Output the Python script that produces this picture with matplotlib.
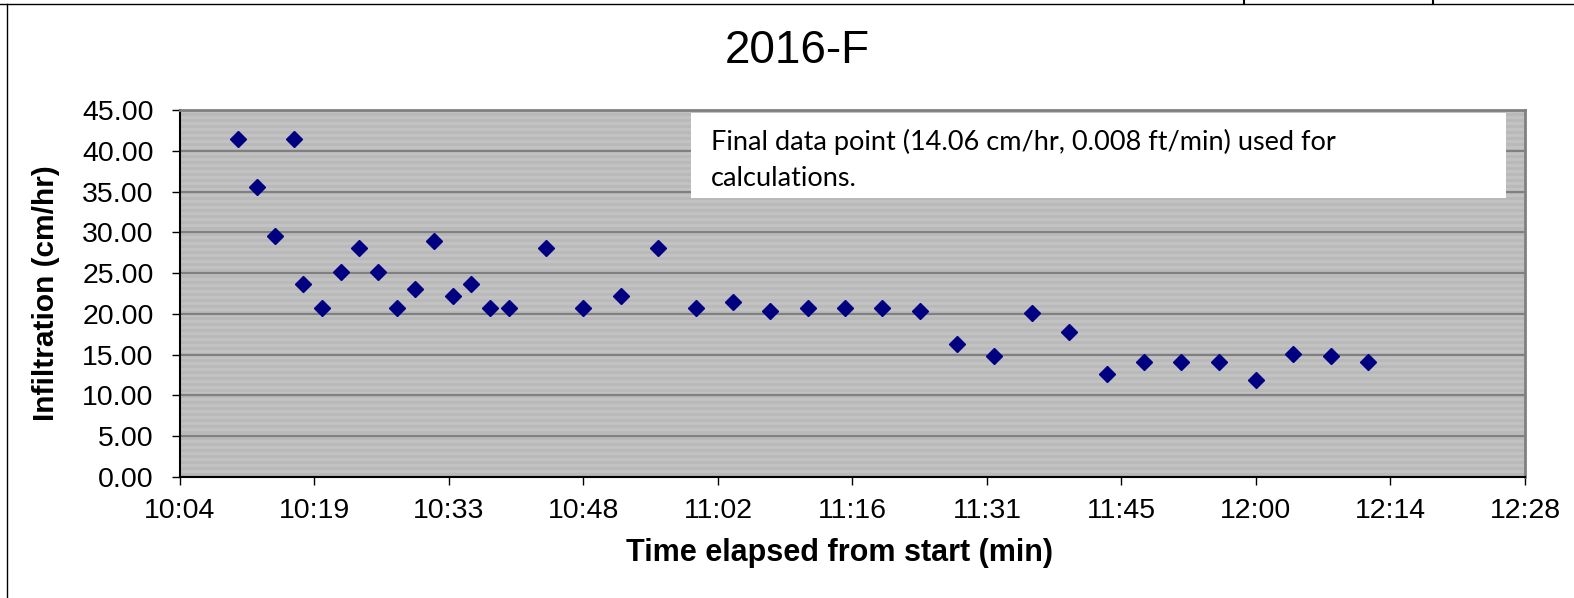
import numpy as np
import matplotlib
matplotlib.use('Agg')
import matplotlib.pyplot as plt
from matplotlib.patches import Rectangle
from matplotlib.lines import Line2D

# clock time of each reading and infiltration rate (cm/hr)
times = ['10:11', '10:13', '10:15', '10:17', '10:18', '10:20', '10:22', '10:24',
         '10:26', '10:28', '10:30', '10:32', '10:34', '10:36', '10:38', '10:40',
         '10:44', '10:48', '10:52', '10:56', '11:00', '11:04', '11:08', '11:12',
         '11:16', '11:20', '11:24', '11:28', '11:32', '11:36', '11:40', '11:44',
         '11:48', '11:52', '11:56', '12:00', '12:04', '12:08', '12:12']
infiltration = [41.43, 35.51, 29.59, 41.43, 23.67, 20.71, 25.15, 28.11,
                25.15, 20.71, 23.08, 28.99, 22.19, 23.67, 20.71, 20.71,
                28.11, 20.71, 22.19, 28.11, 20.71, 21.45, 20.34, 20.71,
                20.71, 20.71, 20.34, 16.27, 14.79, 20.08, 17.75, 12.57,
                14.06, 14.06, 14.06, 11.84, 15.05, 14.79, 14.06]

# excel axis in fractions of a day
x_ticks = [0.42, 0.43, 0.44, 0.45, 0.46, 0.47, 0.48, 0.49, 0.50, 0.51, 0.52]
x_tick_labels = ['10:04', '10:19', '10:33', '10:48', '11:02', '11:16',
                 '11:31', '11:45', '12:00', '12:14', '12:28']
y_ticks = [0, 5, 10, 15, 20, 25, 30, 35, 40, 45]

title = '2016-F'
note_lines = ['Final data point (14.06 cm/hr, 0.008 ft/min) used for',
              'calculations.']

W, H = 1574, 598


def to_day(t):
    h, m = t.split(':')
    return int(h) / 24.0 + int(m) / 1440.0


def fx(px):
    return px / W


def fy(py):
    return 1 - py / H


def main():
    plt.rcParams['font.family'] = ['Liberation Sans', 'DejaVu Sans']
    fig = plt.figure(figsize=(W / 100, H / 100), dpi=100)

    left, right, top, bottom = 180, 1525, 110, 477
    ax = fig.add_axes([fx(left), fy(bottom), fx(right - left), (bottom - top) / H])

    # striped grey plot area like the excel pattern fill
    n = bottom - top
    rows = np.array([0xC2 if (i % 6) < 3 else 0xB9 for i in range(n)], dtype=float)
    ax.imshow(rows.reshape(-1, 1), cmap='gray', vmin=0, vmax=255, aspect='auto',
              extent=[0, 1, 0, 1], transform=ax.transAxes, interpolation='nearest',
              zorder=0)

    xs = [to_day(t) for t in times]
    ax.plot(xs, infiltration, linestyle='none', marker='D', markersize=8,
            color='#000080', zorder=5)

    ax.set_xlim(x_ticks[0], x_ticks[-1])
    ax.set_ylim(y_ticks[0], y_ticks[-1])
    ax.set_xticks(x_ticks)
    ax.set_xticklabels(x_tick_labels)
    ax.set_yticks(y_ticks)
    ax.set_yticklabels([f"{v:.2f}" for v in y_ticks])
    ax.tick_params(axis='both', direction='out', length=6, width=1, colors='black',
                   labelsize=20.5)
    ax.tick_params(axis='x', pad=9)
    ax.tick_params(axis='y', pad=13)

    ax.set_axisbelow(True)
    ax.yaxis.grid(True, color='#808080', linewidth=1.6)
    ax.xaxis.grid(False)
    for s in ['left', 'bottom']:
        ax.spines[s].set_color('black')
        ax.spines[s].set_linewidth(1.5)
    for s in ['top', 'right']:
        ax.spines[s].set_color('#808080')
        ax.spines[s].set_linewidth(2)

    ax.set_ylabel('Infiltration (cm/hr)', fontsize=21.5, fontweight='bold')
    ax.yaxis.set_label_coords(fx(60 - left) / fx(right - left), 0.5)
    fig.text(fx(839), fy(553), 'Time elapsed from start (min)', fontsize=22,
             fontweight='bold', ha='center', va='center')
    fig.text(fx(797), fy(51), title, fontsize=33, ha='center', va='center')

    # white note box
    box = Rectangle((fx(691), fy(198)), fx(1506 - 691), (198 - 113) / H,
                    transform=fig.transFigure, facecolor='white', edgecolor='none',
                    zorder=3)
    ax.add_patch(box)
    fig.text(fx(711), fy(142), note_lines[0], fontsize=19.5, family=['Lato', 'DejaVu Sans'],
             ha='left', va='center', zorder=4)
    fig.text(fx(711), fy(179), note_lines[1], fontsize=19.5, family=['Lato', 'DejaVu Sans'],
             ha='left', va='center', zorder=4)

    # outer frame remnants
    fig.add_artist(Line2D([0, 1], [fy(4), fy(4)], transform=fig.transFigure,
                          color='black', linewidth=1))
    fig.add_artist(Line2D([fx(6.5), fx(6.5)], [fy(4), 0], transform=fig.transFigure,
                          color='black', linewidth=1))
    for px in [1244, 1433]:
        fig.add_artist(Line2D([fx(px), fx(px)], [1, fy(4)], transform=fig.transFigure,
                              color='black', linewidth=1.5))

    fig.savefig('out.png', dpi=100)
    plt.close(fig)


if __name__ == '__main__':
    main()
